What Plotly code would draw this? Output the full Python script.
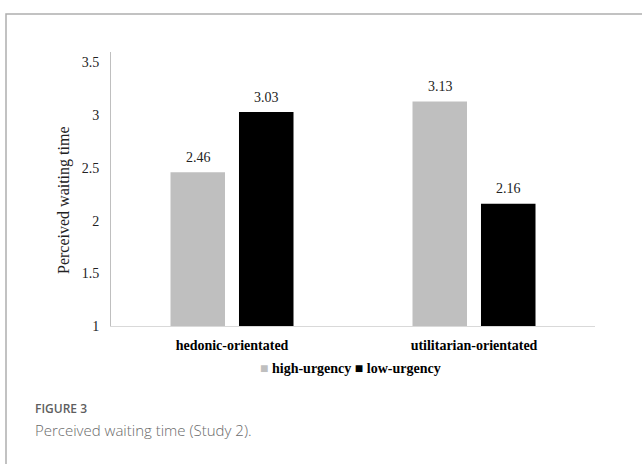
import plotly.graph_objects as go

# Study 2: perceived waiting time by product orientation and urgency
categories = ["hedonic-orientated", "utilitarian-orientated"]
series_names = ["high-urgency", "low-urgency"]
high_urgency = [2.46, 3.13]
low_urgency = [3.03, 2.16]
y_ticks = [1, 1.5, 2, 2.5, 3, 3.5]
y_tick_labels = ["1", "1.5", "2", "2.5", "3", "3.5"]

serif = "Liberation Serif, Times New Roman, serif"
colors = ["#BFBFBF", "#000000"]

W, H = 642, 464
L, R, T, B = 111, 47, 52, 138
pw, ph = W - L - R, H - T - B


def px_x(x):
    return (x - L) / pw


def px_y(y):
    return (H - B - y) / ph


fig = go.Figure()
for name, vals, col in zip(series_names, [high_urgency, low_urgency], colors):
    fig.add_trace(go.Bar(
        name=name, x=categories, y=vals,
        marker=dict(color=col, line=dict(width=0)),
        showlegend=False,
    ))

# value labels above each bar (bars sit ±34 px from the category centre)
annotations = []
for vals, shift in [(high_urgency, -34), (low_urgency, 34)]:
    for cat, v in zip(categories, vals):
        annotations.append(dict(
            x=cat, y=v, xref="x", yref="y", text=f"{v:.2f}",
            xshift=shift, yshift=15, yanchor="middle", xanchor="center",
            showarrow=False, font=dict(family=serif, size=14, color="#222222"),
        ))

# legend row: coloured squares followed by series names
legend_text = (
    f"<span style='color:{colors[0]}'>■</span> {series_names[0]} "
    f"<span style='color:{colors[1]}'>■</span> {series_names[1]}"
)
annotations.append(dict(
    text=legend_text, xref="paper", yref="paper",
    x=px_x(350), y=px_y(368), xanchor="center", yanchor="middle",
    showarrow=False, font=dict(family=serif, size=14, color="#000000", weight="bold"),
))

annotations += [
    dict(text="Perceived waiting time", xref="paper", yref="paper",
         x=px_x(64), y=px_y(200), xanchor="center", yanchor="middle",
         textangle=-90, showarrow=False,
         font=dict(family=serif, size=16, color="#222222")),
    dict(text="FIGURE 3", xref="paper", yref="paper",
         x=px_x(33), y=px_y(408), xanchor="left", yanchor="middle",
         showarrow=False,
         font=dict(family="Open Sans, sans-serif", size=12, color="#5E5E5E", weight=600)),
    dict(text="Perceived waiting time (Study 2).", xref="paper", yref="paper",
         x=px_x(33), y=px_y(430), xanchor="left", yanchor="middle",
         showarrow=False,
         font=dict(family="Open Sans, sans-serif", size=15, color="#6A6A6A", weight=300)),
]

fig.update_layout(
    width=W, height=H,
    margin=dict(l=L, r=R, t=T, b=B, pad=0),
    paper_bgcolor="white", plot_bgcolor="white",
    barmode="group", bargap=0.434, bargroupgap=0.204,
    showlegend=False,
    xaxis=dict(
        showline=True, linecolor="#D9D9D9", linewidth=1,
        ticks="", showgrid=False, zeroline=False,
        tickfont=dict(family=serif, size=14, color="#000000", weight="bold"),
        ticklabelstandoff=6,
    ),
    yaxis=dict(
        range=[1, 3.6], tickvals=y_ticks, ticktext=y_tick_labels,
        showline=True, linecolor="#BFBFBF", linewidth=1,
        ticks="", showgrid=False, zeroline=False,
        tickfont=dict(family=serif, size=14, color="#222222"),
        ticklabelstandoff=8,
    ),
    shapes=[dict(
        type="rect", xref="paper", yref="paper",
        x0=px_x(6), x1=px_x(660), y0=px_y(480), y1=px_y(14),
        line=dict(color="#AEAEAE", width=1.5), fillcolor="rgba(0,0,0,0)",
        layer="below",
    )],
    annotations=annotations,
)

fig.write_html("out.html")
